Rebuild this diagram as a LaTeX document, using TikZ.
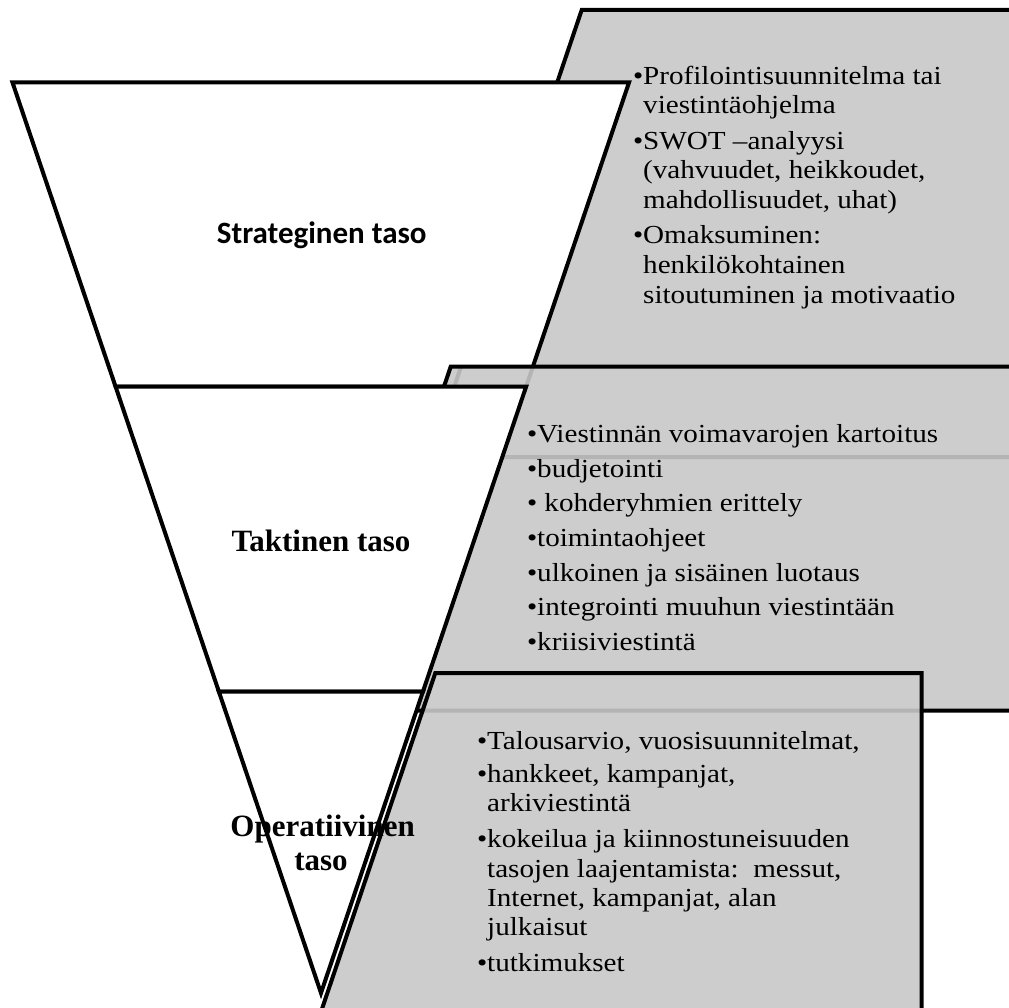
\documentclass[tikz,border=0pt]{standalone}
\usepackage{fontspec}
\setmainfont{Liberation Serif}
\newfontfamily\bodyfont[FakeStretch=1.12]{Liberation Serif}
\newfontfamily\calibfont{Carlito}
\definecolor{boxgray}{RGB}{205,205,205}
\begin{document}
\begin{tikzpicture}[x=1pt,y=-1pt,
  graybox/.style={fill=boxgray,draw=black,line width=4pt},
  levelbox/.style={fill=white,draw=black,line width=4pt},
  faint/.style={draw=black,draw opacity=0.12,line width=4pt},
  item/.style={anchor=base west,inner sep=0pt,outer sep=0pt,font=\bodyfont\fontsize{26}{29.5}\selectfont},
  lbl/.style={anchor=base,inner sep=0pt,font=\bfseries\fontsize{31}{33}\selectfont},
  slbl/.style={anchor=base,inner sep=0pt,font=\calibfont\bfseries\fontsize{31}{33}\selectfont}]
\useasboundingbox (0,0) rectangle (1009,1008);
\clip (0,0) rectangle (1009,1008);
% corner coordinates
\coordinate (g1a) at (581.7,10);
\coordinate (g1b) at (1040,10);
\coordinate (g1c) at (1040,457);
\coordinate (g1d) at (430.5,457);
\coordinate (g2a) at (450.7,366.7);
\coordinate (g2b) at (1040,366.7);
\coordinate (g2c) at (1040,710.7);
\coordinate (g2d) at (334.3,710.7);
\coordinate (g3a) at (435.3,673);
\coordinate (g3b) at (921.7,673);
\coordinate (g3c) at (921.7,1040);
\coordinate (g3d) at (311.5,1040);
\coordinate (t1a) at (12.5,82.5);
\coordinate (t1b) at (629,82.5);
\coordinate (t2b) at (526.1,386.7);
\coordinate (t2a) at (115.6,386.7);
\coordinate (t3b) at (422.9,691.7);
\coordinate (t3a) at (218.9,691.7);
\coordinate (apex) at (321,993);
% layer 1
\path[graybox] (g1a) -- (g1b) -- (g1c) -- (g1d) -- cycle;
\path[levelbox] (t1a) -- (t1b) -- (t2b) -- (t2a) -- cycle;
% layer 2
\path[graybox] (g2a) -- (g2b) -- (g2c) -- (g2d) -- cycle;
\begin{scope}
  \clip (g2a) -- (g2b) -- (g2c) -- (g2d) -- cycle;
  \path[faint] (g1a) -- (g1b) -- (g1c) -- (g1d) -- cycle;
  \path[faint] (t1a) -- (t1b) -- (t2b) -- (t2a) -- cycle;
\end{scope}
\path[levelbox] (t2a) -- (t2b) -- (t3b) -- (t3a) -- cycle;
% layer 3
\path[graybox] (g3a) -- (g3b) -- (g3c) -- (g3d) -- cycle;
\begin{scope}
  \clip (g3a) -- (g3b) -- (g3c) -- (g3d) -- cycle;
  \path[faint] (g2a) -- (g2b) -- (g2c) -- (g2d) -- cycle;
\end{scope}
\path[levelbox] (t3a) -- (t3b) -- (apex) -- cycle;
% level labels
\node[slbl] (strat) at (321.7,243.3) {Strateginen taso};
\node[lbl] (takt) at (321,551) {Taktinen taso};
\node[lbl] (oper1) at (322.6,836.7) {Operatiivinen};
\node[lbl] (oper2) at (321,870) {taso};
% top box
\node[item] (a1) at (633,84.5) {•Profilointisuunnitelma tai};
\node[item] (a2) at (633,114) {\phantom{•}viestintäohjelma};
\node[item] (a3) at (633,149.5) {•SWOT –analyysi};
\node[item] (a4) at (633,179) {\phantom{•}(vahvuudet, heikkoudet,};
\node[item] (a5) at (633,208.5) {\phantom{•}mahdollisuudet, uhat)};
\node[item] (a6) at (633,244) {•Omaksuminen:};
\node[item] (a7) at (633,273.5) {\phantom{•}henkilökohtainen};
\node[item] (a8) at (633,303) {\phantom{•}sitoutuminen ja motivaatio};
% middle box
\node[item] (b1) at (527,442.7) {•Viestinnän voimavarojen kartoitus};
\node[item] (b2) at (527,477.3) {•budjetointi};
\node[item] (b3) at (527,511.9) {• kohderyhmien erittely};
\node[item] (b4) at (527,546.5) {•toimintaohjeet};
\node[item] (b5) at (527,581.1) {•ulkoinen ja sisäinen luotaus};
\node[item] (b6) at (527,615.7) {•integrointi muuhun viestintään};
\node[item] (b7) at (527,650.3) {•kriisiviestintä};
% bottom box
\node[item] (c1) at (477,749) {•Talousarvio, vuosisuunnitelmat,};
\node[item] (c2) at (477,782) {•hankkeet, kampanjat,};
\node[item] (c3) at (477,811) {\phantom{•}arkiviestintä};
\node[item] (c4) at (477,847) {•kokeilua ja kiinnostuneisuuden};
\node[item] (c5) at (477,877) {\phantom{•}tasojen laajentamista:~~messut,};
\node[item] (c6) at (477,906) {\phantom{•}Internet, kampanjat, alan};
\node[item] (c7) at (477,935) {\phantom{•}julkaisut};
\node[item] (c8) at (477,971) {•tutkimukset};
\end{tikzpicture}
\end{document}
